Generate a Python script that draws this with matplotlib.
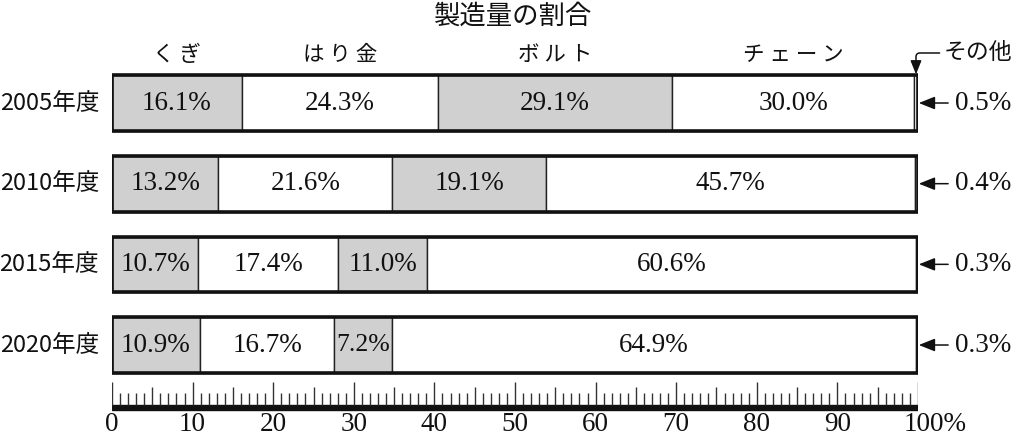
import numpy as np
import matplotlib.pyplot as plt

# 製造量の割合 (%)
years = ['2005年度', '2010年度', '2015年度', '2020年度']
item_labels = ['く ぎ', 'は り 金', 'ボ ル ト', 'チ ェ ー ン']
kugi = [16.1, 13.2, 10.7, 10.9]
harigane = [24.3, 21.6, 17.4, 16.7]
boruto = [29.1, 19.1, 11.0, 7.2]
chain = [30.0, 45.7, 60.6, 64.9]
sonota = [0.5, 0.4, 0.3, 0.3]
ruler_ticks = list(range(0, 101, 10))

jp = ['Noto Sans CJK JP', 'DejaVu Sans']
num = ['Liberation Serif', 'Noto Sans CJK JP']

fig = plt.figure(figsize=(10.34, 4.36), dpi=100)
ax = fig.add_axes([112 / 1034, 0, 806 / 1034, 1])
ax.set_xlim(0, 100)
ax.set_ylim(4.128, -1.277)
ax.axis('off')

series = [kugi, harigane, boruto, chain, sonota]
fills = ['#d0d0d0', 'white', '#d0d0d0', 'white', 'white']
y = np.arange(len(years))
h = 0.69
left = np.zeros(len(years))
starts = []
for vals, fc in zip(series, fills):
    vals = np.array(vals)
    ax.barh(y, vals, left=left, height=h, color=fc, edgecolor='#222', linewidth=1)
    starts.append(left.copy())
    left = left + vals
# outer frame
ax.barh(y, left, height=h, fill=False, edgecolor='#111', linewidth=2.6)

# value labels in the segments
for k in range(4):
    vals = series[k]
    for i in range(len(years)):
        v = vals[i]
        fs = 19.5 if v > 9 else 18.5
        ax.text(starts[k][i] + v / 2, i, f'{v:.1f}%', ha='center', va='center',
                fontsize=fs, family=num, color='#111')

# item names above the first bar
for k in range(4):
    ax.text(starts[k][0] + series[k][0] / 2, -0.6, item_labels[k], ha='center',
            va='center', fontsize=15.5, family=jp, color='#111')

# year labels
for i, yr in enumerate(years):
    ax.text(-1.6, i, yr, ha='right', va='center', fontsize=17, family=jp, color='#111')

# その他 values on the right
arrow = dict(arrowstyle='-|>,head_length=0.5,head_width=0.2', color='#111',
             lw=1.1, shrinkA=3, shrinkB=0)
for i, v in enumerate(sonota):
    ax.annotate(f'{v}%', xy=(left[i] + 0.1, i), xytext=(104.6, i), ha='left',
                va='center', fontsize=19.5, family=num, color='#111',
                arrowprops=arrow, annotation_clip=False)

arrow2 = dict(arrowstyle='-|>,head_length=0.5,head_width=0.2', color='#111',
              lw=1.1, shrinkA=1, shrinkB=0,
              connectionstyle='angle,angleA=0,angleB=90,rad=4')
ax.annotate('その他', xy=(100 - sonota[0] / 2, -h / 2 - 0.01), xytext=(103.2, -0.62),
            ha='left', va='center', fontsize=16.5, family=jp, color='#111',
            arrowprops=arrow2, annotation_clip=False)

fig.text(513 / 1034, 1 - 16 / 436, '製造量の割合', ha='center', va='center',
         fontsize=19, family=jp, color='#111')

# ruler
ax2 = fig.add_axes([112 / 1034, (436 - 412) / 436, 806 / 1034, 34 / 436])
ax2.set_xlim(0, 100)
ax2.set_ylim(0, 34)
ax2.axis('off')
ax2.axhspan(2, 7, color='#111')
minor = np.arange(0, 101)
tops = np.where(minor % 10 == 0, 30, np.where(minor % 5 == 0, 25, 19))
ax2.vlines(minor, 7, tops, color='#333', linewidth=1)
for t in ruler_ticks:
    if t < 100:
        ax2.text(t, -19, str(t), ha='center', va='baseline', fontsize=19.5,
                 family=num, color='#111', clip_on=False)
    else:
        ax2.annotate('100%', xy=(t, -19), xytext=(-10.5, 0), textcoords='offset points',
                     ha='left', va='baseline', fontsize=19.5, family=num,
                     color='#111', annotation_clip=False)

fig.savefig('out.png', dpi=100, facecolor='white')
